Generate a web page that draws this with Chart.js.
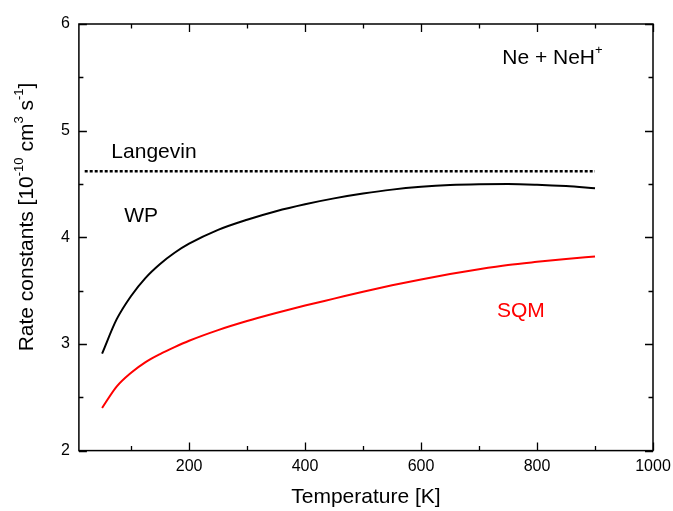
<!DOCTYPE html>
<html lang="en">
<head>
<meta charset="UTF-8">
<title>Ne + NeH+ rate constants</title>
<script src="https://cdn.jsdelivr.net/npm/chart.js"></script>
<style>
  html, body { margin: 0; padding: 0; background: #fff; }
  canvas { display: block; }
</style>
</head>
<body>
<canvas id="rateChart" width="673" height="511"></canvas>
<script>
// values
const temps   = [50, 75, 100, 125, 150, 175, 200, 250, 300, 350, 400, 450, 500, 550, 600, 650, 700, 750, 800, 850, 900];
const wpRate  = [2.91, 3.23, 3.45, 3.62, 3.75, 3.855, 3.94, 4.07, 4.165, 4.245, 4.31, 4.365, 4.41, 4.447, 4.473, 4.49, 4.498, 4.50, 4.493, 4.48, 4.46];
const sqmRate = [2.40, 2.60, 2.73, 2.83, 2.905, 2.97, 3.03, 3.13, 3.215, 3.29, 3.36, 3.425, 3.49, 3.55, 3.605, 3.655, 3.70, 3.74, 3.77, 3.797, 3.82];
const langevinT    = [20, 900];
const langevinRate = [4.62, 4.62];

const xMajor = [200, 400, 600, 800, 1000];
const xMinor = [100, 300, 500, 700, 900];
const yMajor = [2, 3, 4, 5, 6];
const yMinor = [2.5, 3.5, 4.5, 5.5];

const FONT = '"Liberation Sans", Arial, sans-serif';

// text labels inside the plot, placed in data coordinates
const notes = [
    { parts: [['Langevin']], x: 66, y: 4.80, color: '#000' },
    { parts: [['WP']], x: 88, y: 4.20, color: '#000' },
    { parts: [['SQM']], x: 731, y: 3.31, color: '#ff0000' },
    { parts: [['Ne + NeH'], ['+', true]], x: 740, y: 5.68, color: '#000' }
];

function toXY(xs, ys) {
    return xs.map((v, i) => ({ x: v, y: ys[i] }));
}

function richWidth(ctx, parts, size) {
    let w = 0;
    parts.forEach(p => {
        ctx.font = (p[1] ? size * 0.62 : size) + 'px ' + FONT;
        w += ctx.measureText(p[0]).width;
    });
    return w;
}

// draws text with superscript pieces, starting at x (left), vertically centred on y
function drawRich(ctx, parts, x, y, size) {
    let cx = x;
    parts.forEach(p => {
        const s = p[1] ? size * 0.62 : size;
        ctx.font = s + 'px ' + FONT;
        ctx.fillText(p[0], cx, p[1] ? y - size * 0.38 : y);
        cx += ctx.measureText(p[0]).width;
    });
}

const frameTicks = {
    id: 'frameTicks',
    afterDatasetsDraw(chart) {
        const { ctx, chartArea: a, scales: { x, y } } = chart;
        ctx.save();
        ctx.strokeStyle = '#000';
        ctx.lineWidth = 1.5;
        ctx.strokeRect(a.left, a.top, a.right - a.left, a.bottom - a.top);

        ctx.lineWidth = 1.3;
        const xTicks = (vals, len) => vals.forEach(v => {
            const px = Math.round(x.getPixelForValue(v)) + 0.5;
            ctx.beginPath();
            ctx.moveTo(px, a.bottom); ctx.lineTo(px, a.bottom - len);
            ctx.moveTo(px, a.top); ctx.lineTo(px, a.top + len);
            ctx.stroke();
        });
        const yTicks = (vals, len) => vals.forEach(v => {
            const py = Math.round(y.getPixelForValue(v)) + 0.5;
            ctx.beginPath();
            ctx.moveTo(a.left, py); ctx.lineTo(a.left + len, py);
            ctx.moveTo(a.right, py); ctx.lineTo(a.right - len, py);
            ctx.stroke();
        });
        xTicks(xMajor, 8); xTicks(xMinor, 4.5);
        yTicks(yMajor, 8); yTicks(yMinor, 4.5);

        // labels inside the plot
        ctx.textBaseline = 'middle';
        ctx.textAlign = 'left';
        notes.forEach(n => {
            ctx.fillStyle = n.color;
            drawRich(ctx, n.parts, x.getPixelForValue(n.x), y.getPixelForValue(n.y), 21);
        });

        // rotated y axis title with superscripts
        const yTitle = [['Rate constants [10'], ['-10', true], [' cm'], ['3', true], [' s'], ['-1', true], [']']];
        ctx.fillStyle = '#000';
        ctx.translate(a.left - 52, 217);
        ctx.rotate(-Math.PI / 2);
        const tw = richWidth(ctx, yTitle, 21);
        drawRich(ctx, yTitle, -tw / 2, 0, 21);
        ctx.restore();
    }
};

new Chart(document.getElementById('rateChart'), {
    type: 'line',
    data: {
        datasets: [
            {
                label: 'WP',
                data: toXY(temps, wpRate),
                borderColor: '#000',
                borderWidth: 2,
                pointRadius: 0,
                cubicInterpolationMode: 'monotone'
            },
            {
                label: 'SQM',
                data: toXY(temps, sqmRate),
                borderColor: '#ff0000',
                borderWidth: 2,
                pointRadius: 0,
                cubicInterpolationMode: 'monotone'
            },
            {
                label: 'Langevin',
                data: toXY(langevinT, langevinRate),
                borderColor: '#000',
                borderWidth: 2.5,
                borderDash: [3, 2],
                pointRadius: 0
            }
        ]
    },
    options: {
        responsive: false,
        devicePixelRatio: 1,
        animation: false,
        layout: { padding: { left: 52, right: 20, top: 24, bottom: 1 } },
        plugins: {
            legend: { display: false },
            tooltip: { enabled: false }
        },
        scales: {
            x: {
                type: 'linear',
                min: 10,
                max: 1000,
                afterBuildTicks: s => { s.ticks = xMajor.map(v => ({ value: v })); },
                afterFit: s => { s.paddingLeft = 0; s.paddingRight = 0; },
                grid: { display: false, drawTicks: false },
                border: { display: false },
                ticks: {
                    color: '#000', padding: 6, maxRotation: 0,
                    font: { family: FONT, size: 16 },
                    callback: v => String(v)
                },
                title: {
                    display: true,
                    text: 'Temperature [K]',
                    color: '#000',
                    font: { family: FONT, size: 21 },
                    padding: { top: 3, bottom: 0 }
                }
            },
            y: {
                min: 2,
                max: 6,
                afterBuildTicks: s => { s.ticks = yMajor.map(v => ({ value: v })); },
                grid: { display: false, drawTicks: false },
                border: { display: false },
                ticks: { color: '#000', padding: 9, font: { family: FONT, size: 16 } }
            }
        }
    },
    plugins: [frameTicks]
});
</script>
</body>
</html>
